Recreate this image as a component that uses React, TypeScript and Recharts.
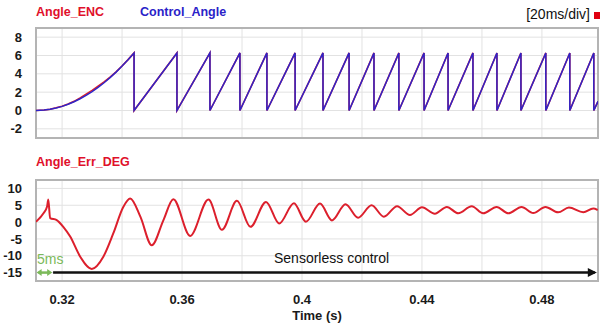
import React from 'react';
import {
  LineChart,
  Line,
  XAxis,
  YAxis,
  CartesianGrid,
  ReferenceArea,
  ReferenceLine,
} from 'recharts';

// time axis (s)
const timeDomain: [number, number] = [0.3113, 0.4987];
const gridTimes = [0.32, 0.34, 0.36, 0.38, 0.4, 0.42, 0.44, 0.46, 0.48];
const labeledTimes = [0.32, 0.36, 0.4, 0.44, 0.48];

// upper panel: rotor angle (rad)
const angleDomain: [number, number] = [-3, 9];
const angleTicks = [-2, 0, 2, 4, 6, 8];
const rampTimes = [0.3113, 0.314, 0.316, 0.318, 0.32, 0.322, 0.324, 0.326, 0.328, 0.33, 0.332, 0.334, 0.336, 0.338, 0.34, 0.342];
const rampEnc = [0, 0.05, 0.14, 0.29, 0.47, 0.71, 1.0, 1.38, 1.78, 2.2, 2.66, 3.12, 3.64, 4.22, 4.86, 5.55];
const rampCtrl = [0, 0.05, 0.13, 0.27, 0.45, 0.68, 0.96, 1.28, 1.65, 2.06, 2.53, 3.03, 3.59, 4.19, 4.85, 5.54];
const wrapTimes = [
  0.344, 0.3583, 0.3693, 0.3793, 0.3883, 0.3977, 0.407, 0.4157, 0.424,
  0.4323, 0.4407, 0.4487, 0.457, 0.465, 0.473, 0.4813, 0.4893, 0.4973,
];
const wrapPeak = 6.28;
const endTime = 0.4987;
const endAngle = 1.0;

// lower panel: angle error (deg)
const errDomain: [number, number] = [-17.5, 12.5];
const errTicks = [-15, -10, -5, 0, 5, 10];
const errTimes = [
  0.3113, 0.3138, 0.315, 0.3154, 0.316, 0.3182, 0.3204, 0.3227, 0.326, 0.3299,
  0.3338, 0.3371, 0.3404, 0.3427, 0.3461, 0.3499, 0.3538, 0.3571, 0.3627, 0.3688,
  0.3733, 0.3783, 0.3828, 0.388, 0.3924, 0.3973, 0.4013, 0.406, 0.41, 0.4145,
  0.4187, 0.4232, 0.4273, 0.4317, 0.436, 0.44, 0.4443, 0.4483, 0.4521, 0.4566,
  0.4604, 0.4649, 0.4688, 0.4732, 0.4771, 0.4812, 0.4854, 0.489, 0.4938, 0.4971,
  0.4986,
];
const errValues = [
  0.1, 2.6, 4.6, 6.7, 1.2, 0.6, -1.4, -4.3, -10.2, -13.9,
  -10.2, -3.3, 4.5, 7.0, 1.6, -6.9, 0.6, 6.8, -4.1, 6.7,
  -2.3, 6.3, -1.4, 6.0, -0.4, 5.6, 0.1, 5.5, 0.5, 5.3,
  1.3, 5.0, 1.6, 4.7, 2.1, 4.4, 2.5, 4.5, 2.6, 4.7,
  2.6, 4.5, 2.6, 4.5, 2.7, 4.5, 2.9, 4.3, 2.9, 4.0,
  3.6,
];

// annotation arrows (time, deg)
const startupEnd = 0.317;
const sensorlessEnd = 0.4983;
const arrowLevel = -15;

const angleData = [
  ...rampTimes.map((t, i) => ({ t, enc: rampEnc[i], ctrl: rampCtrl[i] })),
  ...wrapTimes.flatMap((t) => [
    { t, enc: wrapPeak, ctrl: wrapPeak },
    { t, enc: 0, ctrl: 0 },
  ]),
  { t: endTime, enc: endAngle, ctrl: endAngle },
];

const errData = errTimes.map((t, i) => ({ t, err: errValues[i] }));

const tickStyle = { fontSize: 13, fontWeight: 'bold', fill: '#1a1a1a' };
const gridColor = '#e2e2e2';
const frameColor = '#b4b4b4';

const arrowShape = (color: string, both: boolean, len: number, half: number) => (props: any) => {
  const { x1, y1, x2, y2 } = props;
  return (
    <g>
      <line x1={x1 + (both ? 2 : 0)} y1={y1} x2={x2 - 2} y2={y2} stroke={color} strokeWidth={2.5} />
      <polygon points={`${x2},${y2} ${x2 - len},${y2 - half} ${x2 - len},${y2 + half}`} fill={color} />
      {both && (
        <polygon points={`${x1},${y1} ${x1 + len},${y1 - half} ${x1 + len},${y1 + half}`} fill={color} />
      )}
    </g>
  );
};

const App: React.FC = () => {
  return (
    <div
      style={{
        position: 'absolute',
        left: 0,
        top: 0,
        width: 600,
        height: 329,
        background: '#fff',
        fontFamily: '"Liberation Sans", Arial, sans-serif',
      }}
    >
      <div style={{ position: 'absolute', left: 0, top: 0 }}>
        <LineChart width={600} height={140} data={angleData} margin={{ top: 28, right: 2, bottom: 2, left: 0 }}>
          <CartesianGrid stroke={gridColor} />
          <XAxis type="number" dataKey="t" domain={timeDomain} ticks={gridTimes} allowDataOverflow hide />
          <YAxis
            type="number"
            domain={angleDomain}
            ticks={angleTicks}
            interval={0}
            width={36}
            tickLine={false}
            axisLine={false}
            tickSize={0}
            tickMargin={14}
            tick={tickStyle}
            allowDataOverflow
          />
          <ReferenceArea
            x1={timeDomain[0]}
            x2={timeDomain[1]}
            y1={angleDomain[0]}
            y2={angleDomain[1]}
            fill="none"
            stroke={frameColor}
            strokeWidth={2}
          />
          <Line type="linear" dataKey="enc" stroke="#e0202a" strokeWidth={1.6} dot={false} isAnimationActive={false} />
          <Line type="linear" dataKey="ctrl" stroke="#2e24c8" strokeWidth={1.5} dot={false} isAnimationActive={false} />
        </LineChart>
      </div>

      <div style={{ position: 'absolute', left: 0, top: 140 }}>
        <LineChart width={600} height={189} data={errData} margin={{ top: 40, right: 2, bottom: 0, left: 0 }}>
          <CartesianGrid stroke={gridColor} />
          <XAxis
            type="number"
            dataKey="t"
            domain={timeDomain}
            ticks={gridTimes}
            interval={0}
            tickFormatter={(v: number) => (labeledTimes.includes(v) ? String(v) : '')}
            height={48}
            tickLine={false}
            axisLine={false}
            tickSize={0}
            tickMargin={14}
            tick={tickStyle}
            allowDataOverflow
            label={{ value: 'Time (s)', position: 'insideBottom', offset: 9, fontSize: 13, fontWeight: 'bold', fill: '#1a1a1a' }}
          />
          <YAxis
            type="number"
            domain={errDomain}
            ticks={errTicks}
            interval={0}
            width={36}
            tickLine={false}
            axisLine={false}
            tickSize={0}
            tickMargin={14}
            tick={tickStyle}
            allowDataOverflow
          />
          <ReferenceArea
            x1={timeDomain[0]}
            x2={timeDomain[1]}
            y1={errDomain[0]}
            y2={errDomain[1]}
            fill="none"
            stroke={frameColor}
            strokeWidth={2}
          />
          <Line type="monotone" dataKey="err" stroke="#dc1f2c" strokeWidth={2} dot={false} isAnimationActive={false} />
          <ReferenceLine
            segment={[{ x: startupEnd, y: arrowLevel }, { x: sensorlessEnd, y: arrowLevel }]}
            shape={arrowShape('#111', false, 9, 4.5)}
          />
          <ReferenceLine
            segment={[{ x: timeDomain[0] + 0.0002, y: arrowLevel }, { x: startupEnd - 0.0003, y: arrowLevel }]}
            shape={arrowShape('#7cba5a', true, 5, 3.5)}
          />
        </LineChart>
      </div>

      <svg width={600} height={329} style={{ position: 'absolute', left: 0, top: 0, pointerEvents: 'none' }}>
        <text x={36} y={16} fontSize={12.5} fontWeight="bold" fill="#e0102a">Angle_ENC</text>
        <text x={140} y={16} fontSize={12.5} fontWeight="bold" fill="#2a22c8">Control_Angle</text>
        <text x={590} y={19} fontSize={14} textAnchor="end" fill="#111">[20ms/div]</text>
        <rect x={594} y={12} width={6} height={7} fill="#e00010" />
        <text x={36} y={166} fontSize={12.5} fontWeight="bold" fill="#e0102a">Angle_Err_DEG</text>
        <text x={37} y={264} fontSize={14} fill="#7cba5a">5ms</text>
        <text x={274} y={263} fontSize={14} fill="#111">Sensorless control</text>
      </svg>
    </div>
  );
};

export default App;
